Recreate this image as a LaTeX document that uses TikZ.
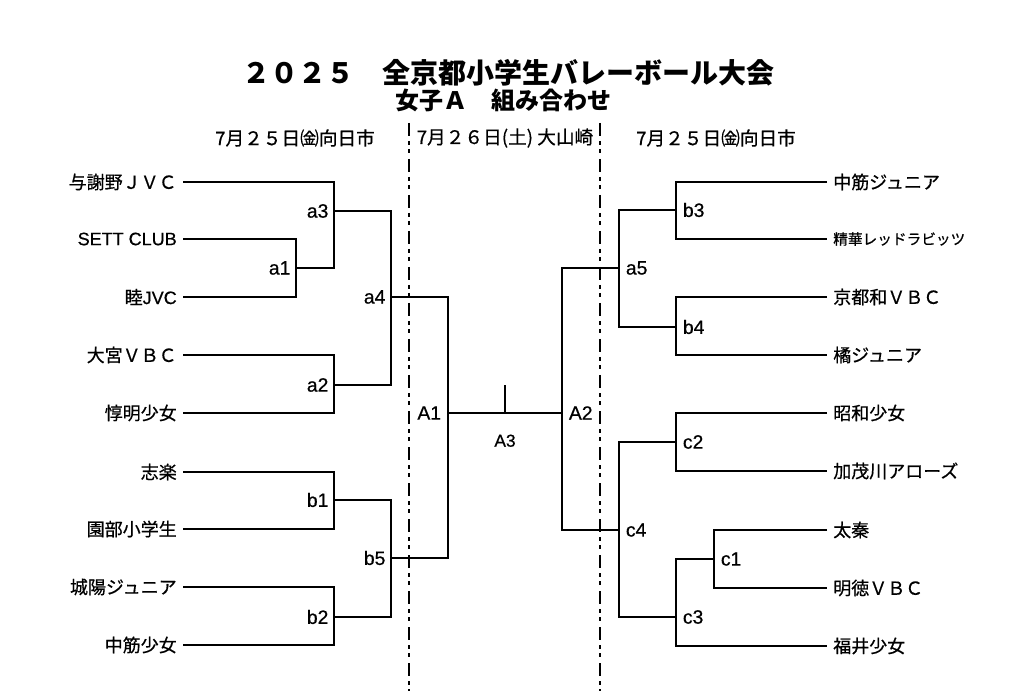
\documentclass[tikz,border=0pt]{standalone}
\usepackage{fontspec}
\setmainfont{Noto Sans CJK JP}[FakeBold=0.6]
\newfontfamily\titlefont{Noto Sans CJK JP}
\newfontfamily\latinfont{Liberation Sans}[FakeBold=0.6]
\usetikzlibrary{positioning}
\tikzset{bracket/.style={draw, line width=1.4pt},
 divider/.style={draw, line width=1.4pt,
   dash pattern=on 9.75pt off 3.75pt on 3pt off 3pt on 3pt off 4.5pt},
 teamleft/.style={anchor=east, inner sep=4.5pt, font=\fontsize{13.5}{16}\selectfont},
 teamright/.style={anchor=west, inner sep=4.5pt, font=\fontsize{13.5}{16}\selectfont},
 mlabel/.style={inner sep=1pt, font=\latinfont\fontsize{14.5}{16}\selectfont},
 heading/.style={font=\fontsize{14}{16}\selectfont},
 }

\begin{document}
\begin{tikzpicture}[x=0.75pt, y=-0.75pt]
        \useasboundingbox (0,0) rectangle (1024,691);
        \node[font=\titlefont\bfseries\fontsize{21}{24}\selectfont] (title) at (508,73) {２０２５　全京都小学生バレーボール大会};
        \node[font=\titlefont\bfseries\fontsize{18}{20}\selectfont] (subtitle) at (503,100) {女子Ａ　組み合わせ};
        \node[heading] (dayL) at (295,138) {7月２５日㈮向日市};
        \node[heading] (dayC) at (505,138) {7月２６日(土) 大山崎};
        \node[heading] (dayR) at (716,138) {7月２５日㈮向日市};

        \coordinate (divLtop) at (409,123);
        \coordinate (divLbot) at (409,691);
        \coordinate (divRtop) at (600,123);
        \coordinate (divRbot) at (600,691);
        \draw[divider] (divLtop) -- (divLbot);
        \draw[divider] (divRtop) -- (divRbot);

        \node[teamleft] (l1) at (183,182) {与謝野ＪＶＣ};
        \node[teamleft] (l2) at (183,239) {\latinfont SETT CLUB};
        \node[teamleft] (l3) at (183,297) {睦\latinfont JVC};
        \node[teamleft] (l4) at (183,355) {大宮ＶＢＣ};
        \node[teamleft] (l5) at (183,413) {惇明少女};
        \node[teamleft] (l6) at (183,472) {志楽};
        \node[teamleft] (l7) at (183,529) {園部小学生};
        \node[teamleft] (l8) at (183,587) {城陽ジュニア};
        \node[teamleft] (l9) at (183,645) {中筋少女};

        \node[teamright] (r1) at (827,182) {中筋ジュニア};
        \node[teamright, font=\fontsize{11}{13}\selectfont] (r2) at (827,239) {精華レッドラビッツ};
        \node[teamright] (r3) at (827,297) {京都和ＶＢＣ};
        \node[teamright] (r4) at (827,355) {橘ジュニア};
        \node[teamright] (r5) at (827,413) {昭和少女};
        \node[teamright] (r6) at (827,471) {加茂川アローズ};
        \node[teamright] (r7) at (827,530) {太秦};
        \node[teamright] (r8) at (827,588) {明徳ＶＢＣ};
        \node[teamright] (r9) at (827,646) {福井少女};

        \coordinate (a1) at (296,268);
        \coordinate (a3) at (334,211);
        \coordinate (a2) at (334,385);
        \coordinate (a4) at (391,297);
        \coordinate (b1) at (334,500);
        \coordinate (b2) at (334,617);
        \coordinate (b5) at (391,558);
        \coordinate (A1) at (448,413);
        \coordinate (A2) at (562,413);
        \coordinate (A3) at (505,413);
        \coordinate (A3top) at (505,385);
        \coordinate (b3) at (676,210);
        \coordinate (b4) at (676,327);
        \coordinate (a5) at (619,268);
        \coordinate (c2) at (676,442);
        \coordinate (c1) at (714,559);
        \coordinate (c3) at (676,617);
        \coordinate (c4) at (619,530);

        \draw[bracket] (l2.east) -| (a1) |- (l3.east);
        \draw[bracket] (l1.east) -| (a3) |- (a1);
        \draw[bracket] (l4.east) -| (a2) |- (l5.east);
        \draw[bracket] (a3) -| (a4) |- (a2);
        \draw[bracket] (l6.east) -| (b1) |- (l7.east);
        \draw[bracket] (l8.east) -| (b2) |- (l9.east);
        \draw[bracket] (b1) -| (b5) |- (b2);
        \draw[bracket] (a4) -| (A1) |- (b5);
        \draw[bracket] (A1) -- (A2);
        \draw[bracket] (A3) -- (A3top);
        \draw[bracket] (r1.west) -| (b3) |- (r2.west);
        \draw[bracket] (r3.west) -| (b4) |- (r4.west);
        \draw[bracket] (b3) -| (a5) |- (b4);
        \draw[bracket] (r5.west) -| (c2) |- (r6.west);
        \draw[bracket] (r7.west) -| (c1) |- (r8.west);
        \draw[bracket] (c1) -| (c3) |- (r9.west);
        \draw[bracket] (c2) -| (c4) |- (c3);
        \draw[bracket] (a5) -| (A2) |- (c4);

        \node[mlabel, left=3pt of a1] (a1t) {a1};
        \node[mlabel, left=3pt of a2] (a2t) {a2};
        \node[mlabel, left=3pt of a3] (a3t) {a3};
        \node[mlabel, left=3pt of a4] (a4t) {a4};
        \node[mlabel, left=3pt of b1] (b1t) {b1};
        \node[mlabel, left=3pt of b2] (b2t) {b2};
        \node[mlabel, left=3pt of b5] (b5t) {b5};
        \node[mlabel, left=4pt of A1] (A1t) {A1};
        \node[mlabel, right=4pt of A2] (A2t) {A2};
        \node[mlabel, font=\latinfont\fontsize{13}{15}\selectfont, below=15pt of A3] (A3t) {A3};
        \node[mlabel, right=4pt of a5] (a5t) {a5};
        \node[mlabel, right=4pt of b3] (b3t) {b3};
        \node[mlabel, right=4pt of b4] (b4t) {b4};
        \node[mlabel, right=4pt of c1] (c1t) {c1};
        \node[mlabel, right=4pt of c2] (c2t) {c2};
        \node[mlabel, right=4pt of c3] (c3t) {c3};
        \node[mlabel, right=4pt of c4] (c4t) {c4};
    \end{tikzpicture}
\end{document}
